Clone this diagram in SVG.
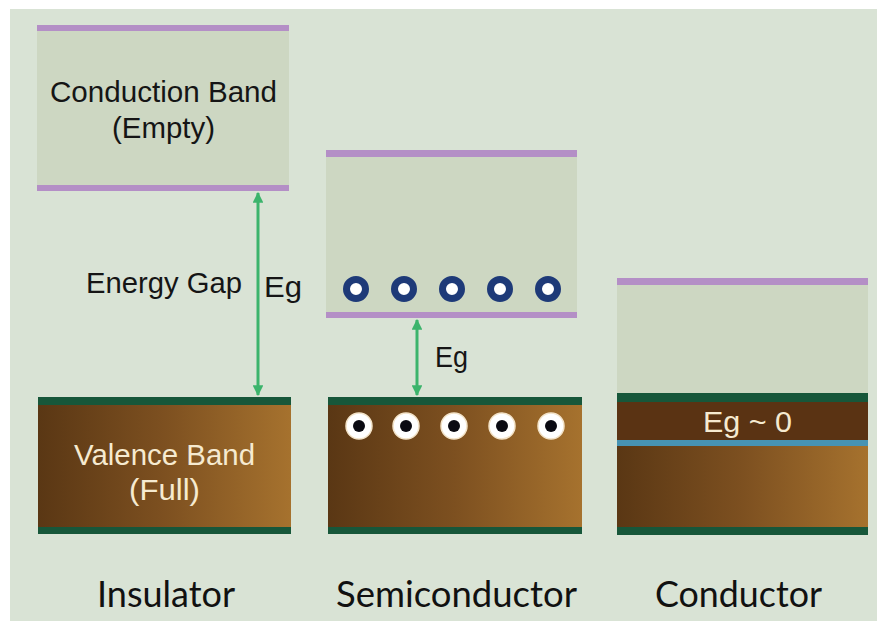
<svg xmlns="http://www.w3.org/2000/svg" width="881" height="621" viewBox="0 0 881 621">
<style>
.purple{fill:#b48fc6}
.dgreen{fill:#17573a}
.cb{fill:#cdd7c2}
.t{font-family:"Liberation Sans",Arial,sans-serif;font-size:29px;fill:#151515}
.tw{font-family:"Liberation Sans",Arial,sans-serif;font-size:29px;fill:#f6ead0}
.lab{font-family:Lato,"Open Sans",sans-serif;font-size:36px;fill:#111111;text-anchor:middle}
.arr{stroke:#3cb46c;stroke-width:3;fill:none}
</style>
<defs>
<linearGradient id="brown" x1="0" y1="0" x2="1" y2="0">
<stop offset="0" stop-color="#5a3714"/>
<stop offset="0.5" stop-color="#7d5020"/>
<stop offset="1" stop-color="#a6722e"/>
</linearGradient>
<marker id="ah" viewBox="0 0 10 10" refX="9" refY="5" markerWidth="3.6" markerHeight="3.6" orient="auto-start-reverse">
<path d="M0,0 L10,5 L0,10 z" fill="#3cb46c"/>
</marker>
</defs>
<rect x="0" y="0" width="881" height="621" fill="#ffffff"/>
<rect x="10" y="9" width="867" height="612" fill="#d9e3d5"/>

<g id="insulator-conduction">
<rect class="cb" x="37" y="30" width="252" height="156"/>
<rect class="purple" x="37" y="25" width="252" height="6"/>
<rect class="purple" x="37" y="185" width="252" height="6"/>
<text class="t" x="50" y="102" textLength="227" lengthAdjust="spacingAndGlyphs">Conduction Band</text>
<text class="t" x="112" y="138" textLength="103" lengthAdjust="spacingAndGlyphs">(Empty)</text>
</g>

<g id="insulator-valence">
<rect x="38" y="404" width="253" height="124" fill="url(#brown)"/>
<rect class="dgreen" x="38" y="397" width="253" height="8"/>
<rect class="dgreen" x="38" y="527" width="253" height="7"/>
<text class="tw" x="74" y="465" textLength="181" lengthAdjust="spacingAndGlyphs">Valence Band</text>
<text class="tw" x="129" y="500" textLength="71" lengthAdjust="spacingAndGlyphs">(Full)</text>
</g>

<g id="energy-gap-label">
<text class="t" x="86" y="293" textLength="156" lengthAdjust="spacingAndGlyphs">Energy Gap</text>
</g>

<g id="semi-conduction">
<rect class="cb" x="326" y="156" width="251" height="157"/>
<rect class="purple" x="326" y="150" width="251" height="7"/>
<rect class="purple" x="326" y="312" width="251" height="6"/>
<g fill="#ffffff" stroke="#1e3a78" stroke-width="7">
<circle cx="356" cy="289" r="9.5"/>
<circle cx="404" cy="289" r="9.5"/>
<circle cx="452" cy="289" r="9.5"/>
<circle cx="500" cy="289" r="9.5"/>
<circle cx="548" cy="289" r="9.5"/>
</g>
</g>

<g id="semi-valence">
<rect x="328" y="404" width="254" height="124" fill="url(#brown)"/>
<rect class="dgreen" x="328" y="397" width="254" height="8"/>
<rect class="dgreen" x="328" y="527" width="254" height="7"/>
<g fill="#ffffff" stroke="#f3e3c8" stroke-width="1.5">
<circle cx="359" cy="426" r="13"/>
<circle cx="406" cy="426" r="13"/>
<circle cx="454" cy="426" r="13"/>
<circle cx="502" cy="426" r="13"/>
<circle cx="551" cy="426" r="13"/>
</g>
<g fill="#0a0a12">
<circle cx="359" cy="426" r="6"/>
<circle cx="406" cy="426" r="6"/>
<circle cx="454" cy="426" r="6"/>
<circle cx="502" cy="426" r="6"/>
<circle cx="551" cy="426" r="6"/>
</g>
</g>

<g id="conductor">
<rect class="cb" x="617" y="284" width="251" height="109"/>
<rect class="purple" x="617" y="278" width="251" height="7"/>
<rect x="617" y="445" width="251" height="83" fill="url(#brown)"/>
<rect x="617" y="401" width="251" height="40" fill="#5a3313"/>
<rect x="617" y="440" width="251" height="6" fill="#4793b3"/>
<rect class="dgreen" x="617" y="393" width="251" height="9"/>
<rect class="dgreen" x="617" y="527" width="251" height="8"/>
<text class="tw" x="703" y="432" textLength="89" lengthAdjust="spacingAndGlyphs">Eg ~ 0</text>
</g>

<g id="connectors">
<line class="arr" x1="258" y1="193" x2="258" y2="395" marker-start="url(#ah)" marker-end="url(#ah)"/>
<line class="arr" x1="417" y1="320" x2="417" y2="395" marker-start="url(#ah)" marker-end="url(#ah)"/>
</g>

<g id="eg-labels">
<text class="t" x="264" y="297" textLength="38" lengthAdjust="spacingAndGlyphs">Eg</text>
<text class="t" x="435" y="367" textLength="33" lengthAdjust="spacingAndGlyphs">Eg</text>
</g>

<g id="labels">
<text class="lab" x="166" y="607" textLength="138" lengthAdjust="spacingAndGlyphs">Insulator</text>
<text class="lab" x="456.5" y="607" textLength="241" lengthAdjust="spacingAndGlyphs">Semiconductor</text>
<text class="lab" x="738.5" y="607" textLength="167" lengthAdjust="spacingAndGlyphs">Conductor</text>
</g>
</svg>
